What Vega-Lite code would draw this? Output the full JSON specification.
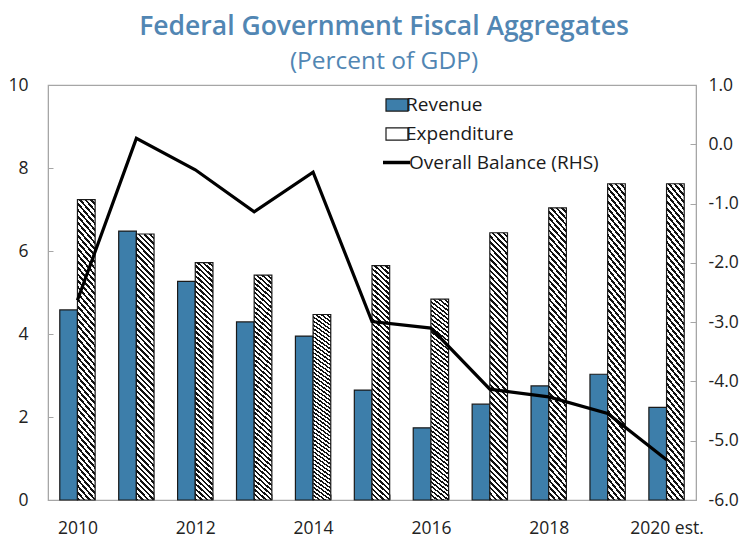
{
  "$schema": "https://vega.github.io/schema/vega-lite/v6.json",
  "width": 648,
  "height": 415,
  "autosize": {"type": "none"},
  "padding": {"left": 48, "top": 85, "right": 58, "bottom": 37},
  "background": "white",
  "config": {
    "font": "Open Sans",
    "view": {"stroke": "#a6a6a6", "strokeWidth": 1.2},
    "axis": {"grid": false, "title": null, "domainColor": "#a6a6a6", "tickColor": "#a6a6a6", "labelFontSize": 17.5, "labelColor": "#222222", "labelFont": "Open Sans"},
    "legend": {"padding": 0, "labelFontSize": 19, "labelColor": "#1a1a1a", "labelFont": "Open Sans", "title": null, "labelLimit": 400}
  },
  "title": {
    "text": "Federal Government Fiscal Aggregates",
    "subtitle": "(Percent of GDP)",
    "anchor": "middle",
    "dx": 12,
    "offset": 3,
    "font": "Open Sans",
    "fontSize": 26.5,
    "fontWeight": 600,
    "color": "#5186b3",
    "subtitleFont": "Open Sans",
    "subtitleColor": "#5186b3",
    "subtitleFontSize": 24.5,
    "subtitleFontWeight": "normal",
    "subtitlePadding": 9
  },
  "datasets": {
    "bars": [
      {"year": "2010", "series": "Revenue", "value": 4.58},
      {"year": "2010", "series": "Expenditure", "value": 7.24},
      {"year": "2011", "series": "Revenue", "value": 6.48},
      {"year": "2011", "series": "Expenditure", "value": 6.41},
      {"year": "2012", "series": "Revenue", "value": 5.27},
      {"year": "2012", "series": "Expenditure", "value": 5.72},
      {"year": "2013", "series": "Revenue", "value": 4.29},
      {"year": "2013", "series": "Expenditure", "value": 5.42},
      {"year": "2014", "series": "Revenue", "value": 3.95},
      {"year": "2014", "series": "Expenditure", "value": 4.47},
      {"year": "2015", "series": "Revenue", "value": 2.65},
      {"year": "2015", "series": "Expenditure", "value": 5.65},
      {"year": "2016", "series": "Revenue", "value": 1.74},
      {"year": "2016", "series": "Expenditure", "value": 4.84},
      {"year": "2017", "series": "Revenue", "value": 2.31},
      {"year": "2017", "series": "Expenditure", "value": 6.44},
      {"year": "2018", "series": "Revenue", "value": 2.75},
      {"year": "2018", "series": "Expenditure", "value": 7.04},
      {"year": "2019", "series": "Revenue", "value": 3.03},
      {"year": "2019", "series": "Expenditure", "value": 7.62},
      {"year": "2020 est.", "series": "Revenue", "value": 2.23},
      {"year": "2020 est.", "series": "Expenditure", "value": 7.62}
    ],
    "balance": [
      {"year": "2010", "name": "Overall Balance (RHS)", "balance": -2.63},
      {"year": "2011", "name": "Overall Balance (RHS)", "balance": 0.1},
      {"year": "2012", "name": "Overall Balance (RHS)", "balance": -0.43},
      {"year": "2013", "name": "Overall Balance (RHS)", "balance": -1.14},
      {"year": "2014", "name": "Overall Balance (RHS)", "balance": -0.47},
      {"year": "2015", "name": "Overall Balance (RHS)", "balance": -2.99},
      {"year": "2016", "name": "Overall Balance (RHS)", "balance": -3.1},
      {"year": "2017", "name": "Overall Balance (RHS)", "balance": -4.13},
      {"year": "2018", "name": "Overall Balance (RHS)", "balance": -4.26},
      {"year": "2019", "name": "Overall Balance (RHS)", "balance": -4.54},
      {"year": "2020 est.", "name": "Overall Balance (RHS)", "balance": -5.32}
    ]
  },
  "layer": [
    {
      "data": {"name": "bars"},
      "mark": {"type": "bar", "stroke": "#1a1a1a", "strokeWidth": 1.2},
      "encoding": {
        "x": {
          "field": "year", "type": "ordinal",
          "scale": {"paddingInner": 0.4, "paddingOuter": 0.2},
          "axis": {"labelAngle": 0, "tickBand": "extent", "tickSize": -6, "labelPadding": 25, "domain": true,
                   "labelExpr": "parseInt(datum.value) % 2 == 1 ? '' : datum.label"}
        },
        "xOffset": {"field": "series", "type": "nominal", "sort": ["Revenue", "Expenditure"], "scale": {"paddingInner": 0}},
        "y": {
          "field": "value", "type": "quantitative",
          "scale": {"domain": [0, 10], "nice": false},
          "axis": {"orient": "left", "values": [0, 2, 4, 6, 8, 10], "tickSize": -5, "labelPadding": 25}
        },
        "fill": {
          "condition": {
            "test": "datum.series === 'Expenditure'",
            "value": {"gradient": "linear", "x1": 0, "y1": 1, "x2": 0.073, "y2": -0.0636, "stops": [
                {"offset": 0, "color": "#111"}, {"offset": 0.009, "color": "#111"}, {"offset": 0.009, "color": "#fff"}, {"offset": 0.02, "color": "#fff"},
                {"offset": 0.02, "color": "#111"}, {"offset": 0.029, "color": "#111"}, {"offset": 0.029, "color": "#fff"}, {"offset": 0.04, "color": "#fff"},
                {"offset": 0.04, "color": "#111"}, {"offset": 0.049, "color": "#111"}, {"offset": 0.049, "color": "#fff"}, {"offset": 0.06, "color": "#fff"},
                {"offset": 0.06, "color": "#111"}, {"offset": 0.069, "color": "#111"}, {"offset": 0.069, "color": "#fff"}, {"offset": 0.08, "color": "#fff"},
                {"offset": 0.08, "color": "#111"}, {"offset": 0.089, "color": "#111"}, {"offset": 0.089, "color": "#fff"}, {"offset": 0.10, "color": "#fff"},
                {"offset": 0.10, "color": "#111"}, {"offset": 0.109, "color": "#111"}, {"offset": 0.109, "color": "#fff"}, {"offset": 0.12, "color": "#fff"},
                {"offset": 0.12, "color": "#111"}, {"offset": 0.129, "color": "#111"}, {"offset": 0.129, "color": "#fff"}, {"offset": 0.14, "color": "#fff"},
                {"offset": 0.14, "color": "#111"}, {"offset": 0.149, "color": "#111"}, {"offset": 0.149, "color": "#fff"}, {"offset": 0.16, "color": "#fff"},
                {"offset": 0.16, "color": "#111"}, {"offset": 0.169, "color": "#111"}, {"offset": 0.169, "color": "#fff"}, {"offset": 0.18, "color": "#fff"},
                {"offset": 0.18, "color": "#111"}, {"offset": 0.189, "color": "#111"}, {"offset": 0.189, "color": "#fff"}, {"offset": 0.20, "color": "#fff"},
                {"offset": 0.20, "color": "#111"}, {"offset": 0.209, "color": "#111"}, {"offset": 0.209, "color": "#fff"}, {"offset": 0.22, "color": "#fff"},
                {"offset": 0.22, "color": "#111"}, {"offset": 0.229, "color": "#111"}, {"offset": 0.229, "color": "#fff"}, {"offset": 0.24, "color": "#fff"},
                {"offset": 0.24, "color": "#111"}, {"offset": 0.249, "color": "#111"}, {"offset": 0.249, "color": "#fff"}, {"offset": 0.26, "color": "#fff"},
                {"offset": 0.26, "color": "#111"}, {"offset": 0.269, "color": "#111"}, {"offset": 0.269, "color": "#fff"}, {"offset": 0.28, "color": "#fff"},
                {"offset": 0.28, "color": "#111"}, {"offset": 0.289, "color": "#111"}, {"offset": 0.289, "color": "#fff"}, {"offset": 0.30, "color": "#fff"},
                {"offset": 0.30, "color": "#111"}, {"offset": 0.309, "color": "#111"}, {"offset": 0.309, "color": "#fff"}, {"offset": 0.32, "color": "#fff"},
                {"offset": 0.32, "color": "#111"}, {"offset": 0.329, "color": "#111"}, {"offset": 0.329, "color": "#fff"}, {"offset": 0.34, "color": "#fff"},
                {"offset": 0.34, "color": "#111"}, {"offset": 0.349, "color": "#111"}, {"offset": 0.349, "color": "#fff"}, {"offset": 0.36, "color": "#fff"},
                {"offset": 0.36, "color": "#111"}, {"offset": 0.369, "color": "#111"}, {"offset": 0.369, "color": "#fff"}, {"offset": 0.38, "color": "#fff"},
                {"offset": 0.38, "color": "#111"}, {"offset": 0.389, "color": "#111"}, {"offset": 0.389, "color": "#fff"}, {"offset": 0.40, "color": "#fff"},
                {"offset": 0.40, "color": "#111"}, {"offset": 0.409, "color": "#111"}, {"offset": 0.409, "color": "#fff"}, {"offset": 0.42, "color": "#fff"},
                {"offset": 0.42, "color": "#111"}, {"offset": 0.429, "color": "#111"}, {"offset": 0.429, "color": "#fff"}, {"offset": 0.44, "color": "#fff"},
                {"offset": 0.44, "color": "#111"}, {"offset": 0.449, "color": "#111"}, {"offset": 0.449, "color": "#fff"}, {"offset": 0.46, "color": "#fff"},
                {"offset": 0.46, "color": "#111"}, {"offset": 0.469, "color": "#111"}, {"offset": 0.469, "color": "#fff"}, {"offset": 0.48, "color": "#fff"},
                {"offset": 0.48, "color": "#111"}, {"offset": 0.489, "color": "#111"}, {"offset": 0.489, "color": "#fff"}, {"offset": 0.50, "color": "#fff"},
                {"offset": 0.50, "color": "#111"}, {"offset": 0.509, "color": "#111"}, {"offset": 0.509, "color": "#fff"}, {"offset": 0.52, "color": "#fff"},
                {"offset": 0.52, "color": "#111"}, {"offset": 0.529, "color": "#111"}, {"offset": 0.529, "color": "#fff"}, {"offset": 0.54, "color": "#fff"},
                {"offset": 0.54, "color": "#111"}, {"offset": 0.549, "color": "#111"}, {"offset": 0.549, "color": "#fff"}, {"offset": 0.56, "color": "#fff"},
                {"offset": 0.56, "color": "#111"}, {"offset": 0.569, "color": "#111"}, {"offset": 0.569, "color": "#fff"}, {"offset": 0.58, "color": "#fff"},
                {"offset": 0.58, "color": "#111"}, {"offset": 0.589, "color": "#111"}, {"offset": 0.589, "color": "#fff"}, {"offset": 0.60, "color": "#fff"},
                {"offset": 0.60, "color": "#111"}, {"offset": 0.609, "color": "#111"}, {"offset": 0.609, "color": "#fff"}, {"offset": 0.62, "color": "#fff"},
                {"offset": 0.62, "color": "#111"}, {"offset": 0.629, "color": "#111"}, {"offset": 0.629, "color": "#fff"}, {"offset": 0.64, "color": "#fff"},
                {"offset": 0.64, "color": "#111"}, {"offset": 0.649, "color": "#111"}, {"offset": 0.649, "color": "#fff"}, {"offset": 0.66, "color": "#fff"},
                {"offset": 0.66, "color": "#111"}, {"offset": 0.669, "color": "#111"}, {"offset": 0.669, "color": "#fff"}, {"offset": 0.68, "color": "#fff"},
                {"offset": 0.68, "color": "#111"}, {"offset": 0.689, "color": "#111"}, {"offset": 0.689, "color": "#fff"}, {"offset": 0.70, "color": "#fff"},
                {"offset": 0.70, "color": "#111"}, {"offset": 0.709, "color": "#111"}, {"offset": 0.709, "color": "#fff"}, {"offset": 0.72, "color": "#fff"},
                {"offset": 0.72, "color": "#111"}, {"offset": 0.729, "color": "#111"}, {"offset": 0.729, "color": "#fff"}, {"offset": 0.74, "color": "#fff"},
                {"offset": 0.74, "color": "#111"}, {"offset": 0.749, "color": "#111"}, {"offset": 0.749, "color": "#fff"}, {"offset": 0.76, "color": "#fff"},
                {"offset": 0.76, "color": "#111"}, {"offset": 0.769, "color": "#111"}, {"offset": 0.769, "color": "#fff"}, {"offset": 0.78, "color": "#fff"},
                {"offset": 0.78, "color": "#111"}, {"offset": 0.789, "color": "#111"}, {"offset": 0.789, "color": "#fff"}, {"offset": 0.80, "color": "#fff"},
                {"offset": 0.80, "color": "#111"}, {"offset": 0.809, "color": "#111"}, {"offset": 0.809, "color": "#fff"}, {"offset": 0.82, "color": "#fff"},
                {"offset": 0.82, "color": "#111"}, {"offset": 0.829, "color": "#111"}, {"offset": 0.829, "color": "#fff"}, {"offset": 0.84, "color": "#fff"},
                {"offset": 0.84, "color": "#111"}, {"offset": 0.849, "color": "#111"}, {"offset": 0.849, "color": "#fff"}, {"offset": 0.86, "color": "#fff"},
                {"offset": 0.86, "color": "#111"}, {"offset": 0.869, "color": "#111"}, {"offset": 0.869, "color": "#fff"}, {"offset": 0.88, "color": "#fff"},
                {"offset": 0.88, "color": "#111"}, {"offset": 0.889, "color": "#111"}, {"offset": 0.889, "color": "#fff"}, {"offset": 0.90, "color": "#fff"},
                {"offset": 0.90, "color": "#111"}, {"offset": 0.909, "color": "#111"}, {"offset": 0.909, "color": "#fff"}, {"offset": 0.92, "color": "#fff"},
                {"offset": 0.92, "color": "#111"}, {"offset": 0.929, "color": "#111"}, {"offset": 0.929, "color": "#fff"}, {"offset": 0.94, "color": "#fff"},
                {"offset": 0.94, "color": "#111"}, {"offset": 0.949, "color": "#111"}, {"offset": 0.949, "color": "#fff"}, {"offset": 0.96, "color": "#fff"},
                {"offset": 0.96, "color": "#111"}, {"offset": 0.969, "color": "#111"}, {"offset": 0.969, "color": "#fff"}, {"offset": 0.98, "color": "#fff"},
                {"offset": 0.98, "color": "#111"}, {"offset": 0.989, "color": "#111"}, {"offset": 0.989, "color": "#fff"}, {"offset": 1, "color": "#fff"}
              ]}
          },
          "field": "series", "type": "nominal",
          "scale": {"domain": ["Revenue", "Expenditure"], "range": ["#3d7eaa", "#ffffff"]},
          "legend": {
            "orient": "none", "legendX": 337, "legendY": 8, "direction": "vertical",
            "symbolType": "M-1,-0.55H1V0.55H-1Z", "symbolSize": 484,
            "symbolStrokeColor": "#1a1a1a", "symbolStrokeWidth": 1.2,
            "labelOffset": -3, "rowPadding": 7,
            "encode": {
              "symbols": {
                "update": {
                  "stroke": {"value": "#1a1a1a"},
                  "strokeWidth": {"value": 1.2},
                  "fill": [
                    {"test": "datum.value == 'Expenditure' || datum.label == 'Expenditure'",
                     "value": {"gradient": "linear", "x1": 0, "y1": 1, "x2": 1.191, "y2": 0.351, "stops": [
                      {"offset": 0, "color": "#111"}, {"offset": 0.1, "color": "#111"}, {"offset": 0.1, "color": "#fff"}, {"offset": 0.2, "color": "#fff"},
                      {"offset": 0.2, "color": "#111"}, {"offset": 0.3, "color": "#111"}, {"offset": 0.3, "color": "#fff"}, {"offset": 0.4, "color": "#fff"},
                      {"offset": 0.4, "color": "#111"}, {"offset": 0.5, "color": "#111"}, {"offset": 0.5, "color": "#fff"}, {"offset": 0.6, "color": "#fff"},
                      {"offset": 0.6, "color": "#111"}, {"offset": 0.7, "color": "#111"}, {"offset": 0.7, "color": "#fff"}, {"offset": 0.8, "color": "#fff"},
                      {"offset": 0.8, "color": "#111"}, {"offset": 0.9, "color": "#111"}, {"offset": 0.9, "color": "#fff"}, {"offset": 1, "color": "#fff"}
                    ]}},
                    {"value": "#3d7eaa"}
                  ]
                }
              }
            }
          }
        }
      }
    },
    {
      "data": {"name": "balance"},
      "mark": {"type": "line", "strokeWidth": 3.2, "strokeJoin": "miter"},
      "encoding": {
        "x": {"field": "year", "type": "ordinal"},
        "y": {
          "field": "balance", "type": "quantitative",
          "scale": {"domain": [-6, 1], "nice": false, "zero": false},
          "axis": {"orient": "right", "values": [-6, -5, -4, -3, -2, -1, 0, 1], "format": ".1f", "tickSize": -6, "labelPadding": 18,
                   "labelExpr": "replace(datum.label, '\u2212', '-')"}
        },
        "stroke": {
          "field": "name", "type": "nominal",
          "scale": {"range": ["#000000"]},
          "legend": {
            "orient": "none", "legendX": 333, "legendY": 62,
            "symbolType": "stroke", "symbolSize": 729, "symbolStrokeWidth": 3.5,
            "labelOffset": -3, "labelLimit": 400
          }
        }
      }
    }
  ],
  "resolve": {"scale": {"y": "independent"}}
}
